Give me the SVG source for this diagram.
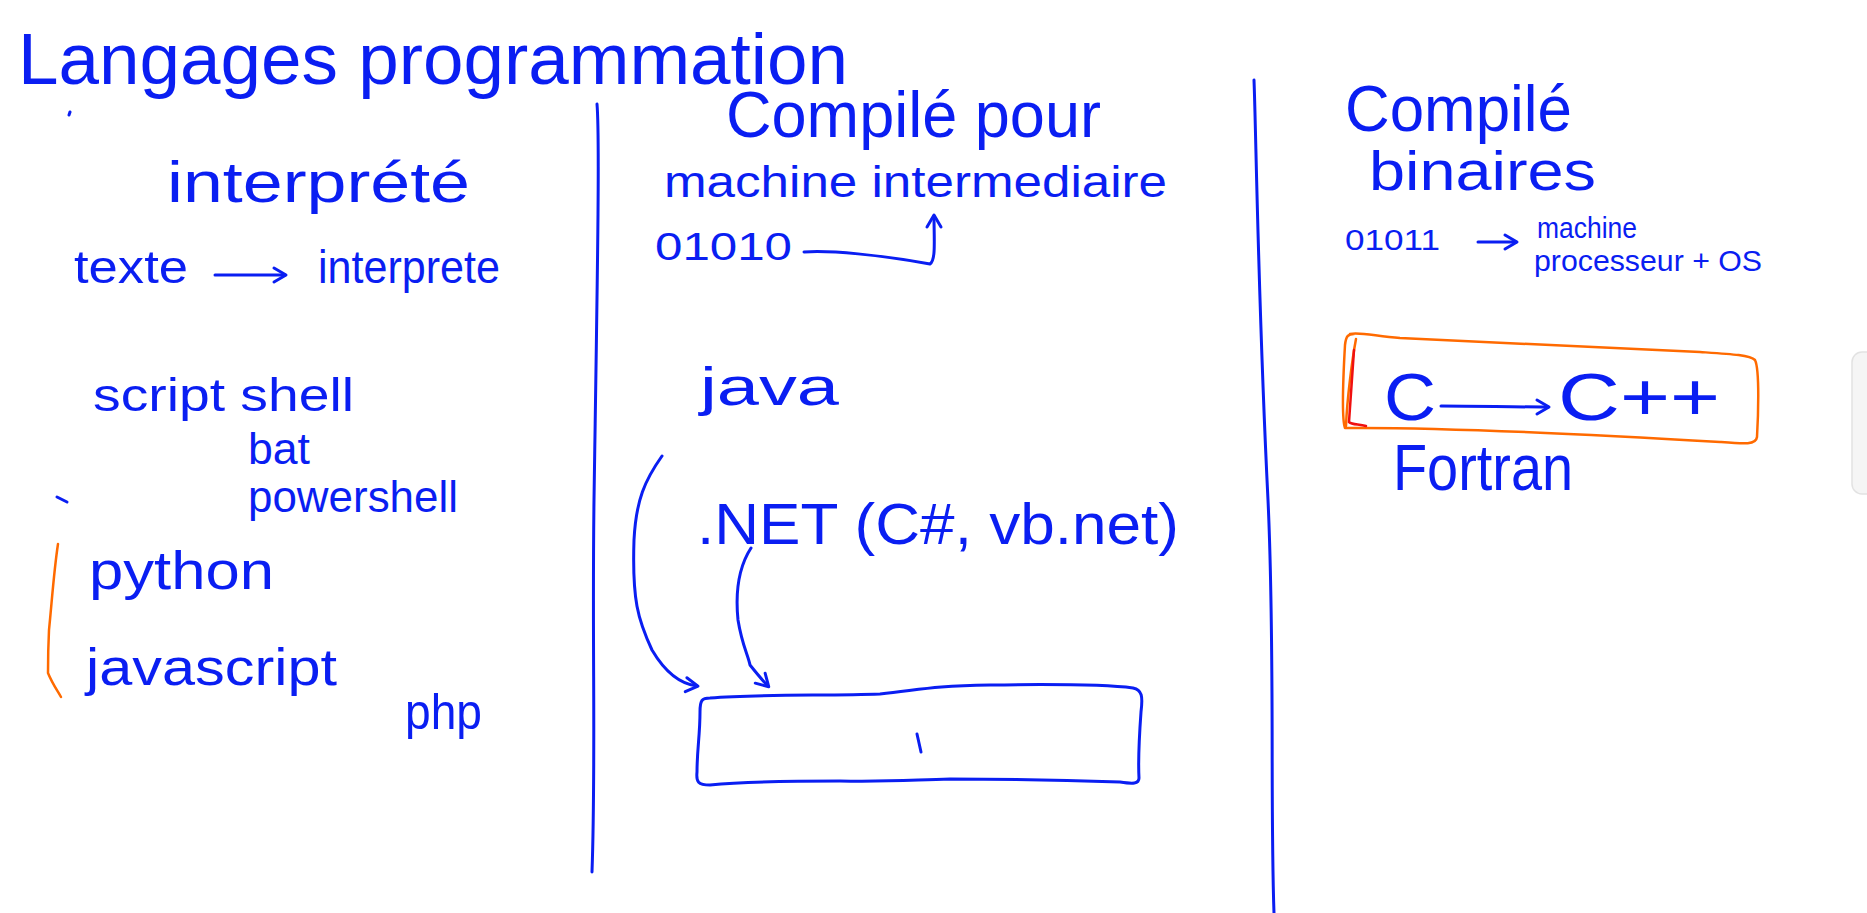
<svg xmlns="http://www.w3.org/2000/svg" width="1867" height="913" viewBox="0 0 1867 913">
<defs>
<style>
.t{font-family:"Liberation Sans",Arial,sans-serif;fill:#0a1ef2;}
.ln{fill:none;stroke:#0a1ef2;stroke-width:3;stroke-linecap:round;stroke-linejoin:round;}
.or{fill:none;stroke:#ff6a00;stroke-width:2.5;stroke-linecap:round;stroke-linejoin:round;}
</style>
<marker id="ah" viewBox="0 0 20 20" refX="14" refY="10" markerWidth="20" markerHeight="20" markerUnits="userSpaceOnUse" orient="auto">
<path d="M3,3 L15,10 L3,17" fill="none" stroke="#0a1ef2" stroke-width="3" stroke-linecap="round" stroke-linejoin="round"/>
</marker>
</defs>
<rect width="1867" height="913" fill="#ffffff"/>

<g id="title">
<text class="t" x="18" y="84" font-size="72" textLength="830" lengthAdjust="spacingAndGlyphs">Langages programmation</text>
<path class="ln" d="M70,112 L69,115"/>
</g>

<g id="dividers">
<path class="ln" d="M597,104 C600,140 597,300 594,500 C592,650 596,760 592,872"/>
<path class="ln" d="M1254,80 C1256,130 1258,300 1268,500 C1275,650 1270,800 1274,913"/>
</g>

<g id="interprete">
<text class="t" x="167" y="202" font-size="58" textLength="303" lengthAdjust="spacingAndGlyphs">interprété</text>
<text class="t" x="74" y="283" font-size="46" textLength="114" lengthAdjust="spacingAndGlyphs">texte</text>
<text class="t" x="318" y="283" font-size="46" textLength="182" lengthAdjust="spacingAndGlyphs">interprete</text>
</g>

<g id="scripts">
<text class="t" x="93" y="411" font-size="46" textLength="261" lengthAdjust="spacingAndGlyphs">script shell</text>
<text class="t" x="248" y="464" font-size="44" textLength="62" lengthAdjust="spacingAndGlyphs">bat</text>
<text class="t" x="248" y="512" font-size="44" textLength="210" lengthAdjust="spacingAndGlyphs">powershell</text>
<path class="ln" d="M57,497 L67,502"/>
</g>

<g id="python-js">
<text class="t" x="89" y="589" font-size="54" textLength="185" lengthAdjust="spacingAndGlyphs">python</text>
<text class="t" x="86" y="685" font-size="52" textLength="251" lengthAdjust="spacingAndGlyphs">javascript</text>
<path class="or" d="M58,544 C54,570 52,600 49,630 C48,650 48,665 48,673 C52,683 57,690 61,697"/>
</g>

<g id="php">
<text class="t" x="405" y="729" font-size="50" textLength="77" lengthAdjust="spacingAndGlyphs">php</text>
</g>

<g id="compile-intermediaire">
<text class="t" x="726" y="137" font-size="64" textLength="375" lengthAdjust="spacingAndGlyphs">Compilé pour</text>
<text class="t" x="664" y="197" font-size="44" textLength="503" lengthAdjust="spacingAndGlyphs">machine intermediaire</text>
<text class="t" x="655" y="260" font-size="38" textLength="137" lengthAdjust="spacingAndGlyphs">01010</text>
</g>

<g id="java">
<text class="t" x="700" y="405" font-size="54" textLength="139" lengthAdjust="spacingAndGlyphs">java</text>
</g>

<g id="dotnet">
<text class="t" x="697" y="544" font-size="58" textLength="482" lengthAdjust="spacingAndGlyphs">.NET (C#, vb.net)</text>
</g>

<g id="vm-box">
<path class="ln" d="M710,698 C760,694 830,696 880,694 C920,690 930,686 990,685 C1060,684 1110,685 1133,688 C1142,690 1143,696 1141,712 C1139,740 1138,760 1139,778 C1139,784 1133,784 1120,782 C1060,780 1000,779 950,779 C910,780 890,782 840,781 C780,781 740,782 710,785 C698,785 696,782 697,772 C697,750 700,735 700,712 C700,700 702,698 710,698 Z"/>
<path class="ln" d="M917,734 L921,752"/>
</g>

<g id="compile-binaire">
<text class="t" x="1345" y="131" font-size="64" textLength="227" lengthAdjust="spacingAndGlyphs">Compilé</text>
<text class="t" x="1369" y="190" font-size="56" textLength="227" lengthAdjust="spacingAndGlyphs">binaires</text>
<text class="t" x="1345" y="250" font-size="29" textLength="95" lengthAdjust="spacingAndGlyphs">01011</text>
<text class="t" x="1537" y="238" font-size="30" textLength="100" lengthAdjust="spacingAndGlyphs">machine</text>
<text class="t" x="1534" y="271" font-size="30" textLength="228" lengthAdjust="spacingAndGlyphs">processeur + OS</text>
</g>

<g id="c-family">
<path class="or" d="M1350,334 C1360,332 1375,336 1400,338 C1500,343 1600,348 1700,352 C1730,354 1750,355 1755,360 C1760,370 1758,420 1757,437 C1756,445 1745,444 1720,442 C1600,435 1450,427 1345,428 C1342,420 1343,380 1345,345 C1346,336 1348,334 1354,334"/>
<path class="or" d="M1356,339 C1352,360 1347,400 1346,426"/>
<path d="M1354,350 C1352,380 1350,405 1349,422 C1352,425 1358,424 1366,426" fill="none" stroke="#f01010" stroke-width="2.5" stroke-linecap="round"/>
<text class="t" x="1384" y="420" font-size="66" textLength="52" lengthAdjust="spacingAndGlyphs">C</text>
<text class="t" x="1558" y="420" font-size="66" textLength="162" lengthAdjust="spacingAndGlyphs">C++</text>
<text class="t" x="1393" y="490" font-size="64" textLength="180" lengthAdjust="spacingAndGlyphs">Fortran</text>
</g>

<g id="connectors">
<path class="ln" d="M215,275 L285,275" marker-end="url(#ah)"/>
<path class="ln" d="M804,252 C830,250 880,255 930,264 C936,260 934,240 934,216" marker-end="url(#ah)"/>
<path class="ln" d="M1478,242 L1516,242" marker-end="url(#ah)"/>
<path class="ln" d="M1441,406 C1480,406 1510,407 1548,407" marker-end="url(#ah)"/>
<path class="ln" d="M662,456 C645,480 636,500 634,540 C632,600 638,620 652,650 C665,672 680,684 697,686" marker-end="url(#ah)"/>
<path class="ln" d="M751,548 C740,565 735,590 738,620 C742,645 748,655 750,665 C758,675 762,680 768,686" marker-end="url(#ah)"/>
</g>

<g id="side-panel">
<rect x="1852" y="352" width="40" height="142" rx="10" fill="#f5f5f5" stroke="#e2e2e2" stroke-width="1.5"/>
</g>
</svg>
